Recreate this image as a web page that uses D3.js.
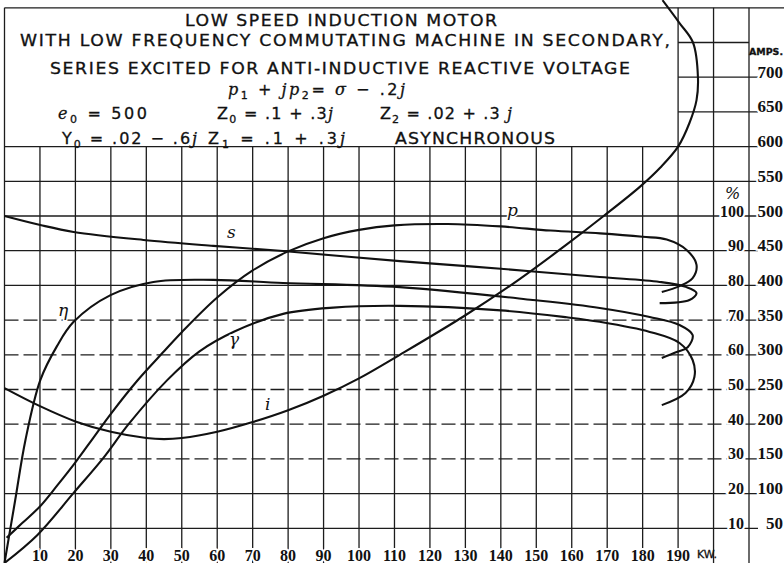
<!DOCTYPE html>
<html>
<head>
<meta charset="utf-8">
<script src="https://cdn.jsdelivr.net/npm/d3@7"></script>
<style>
  body { margin: 0; background: #fff; }
  svg { display: block; }
  .grid { stroke: #1c1c1c; stroke-width: 1.3; fill: none; }
  .curve { stroke: #111; stroke-width: 2.1; fill: none; }
  .num { font-family: "Liberation Serif", serif; font-weight: bold; fill: #111;
         paint-order: stroke; stroke: #fff; stroke-width: 4px; }
  .cap { font-family: "DejaVu Sans", sans-serif; fill: #111; stroke: #111; stroke-width: 0.3px; }
  .lbl { font-family: "DejaVu Serif", serif; font-style: italic; fill: #111;
         paint-order: stroke; stroke: #fff; stroke-width: 3px; }
</style>
</head>
<body>
<div class="chart"></div>
<script>
// ---- values: [kW, %]  (current i in amps) ----
var etaPts = [[0,0],[3,18],[5.9,35.4],[10.1,52.7],[14.8,62.5],[19.5,69.5],[29.9,77.2],[42,81],
  [58.9,81.6],[78.6,80.7],[111.5,79.5],[149,75.8],[167.9,73.5],[182,70.9],[190.4,68.6],
  [194.1,65.7],[192.7,62.2],[189.6,60.8],[185.4,59.1]];
var pfPts = [[0.6,7.3],[5,11.5],[10,16.3],[15,22.5],[20,29],[25,36],[30,43],[37.5,52.6],
  [45,61],[50,66.5],[60,76.5],[70,84.3],[80,89.8],[90,93.6],[100,96],[110,97.3],[125,97.7],
  [140,97],[154,95.8],[168,95],[180,94],[186.8,93.2],[192.4,90.2],[195.2,85.9],[194.1,82.1],
  [190.4,79.8],[185.4,78.1]];
var speedPts = [[0,100],[10.1,97.4],[19.5,95.4],[39.2,93.1],[58.9,91.4],[78.6,89.9],[111.5,87],
  [140,84.8],[167.9,82.4],[184.8,81],[192.4,79.5],[195.2,77.8],[193.2,75.8],[184.8,74.9]];
var gammaPts = [[0,0],[9.3,8.1],[19.5,20.2],[27.9,30.3],[35,40],[45.9,52.7],[55,61],
  [65,66.8],[78.6,71.8],[92.7,73.6],[111.5,74.1],[140,72.8],[158.6,70.8],[167.9,69.5],
  [182,66.6],[190.4,63.4],[194.1,58.5],[194.6,53.6],[192.1,49],[185.4,45.5]];
var ampPts = [[0,252],[10,226],[20,204],[30,189],[40,180],[45,178.5],[50,180],[60,189],
  [70,203],[80,220],[90,241],[100,266],[111.5,300],[130,357],[145,408],[158.6,459],
  [169,500],[179.2,542],[185,570],[190,600],[193.2,634],[195.2,667],[195.6,700],
  [194.2,750],[190.4,778],[185.6,811]];

var kwTicks = [10,20,30,40,50,60,70,80,90,100,110,120,130,140,150,160,170,180,190];
var pctTicks = [10,20,30,40,50,60,70,80,90,100];
var ampTicks = [50,100,150,200,250,300,350,400,450,500,550,600,650,700];
var dashedRows = [30,40,50,60,70];

var titleLines = ["LOW SPEED INDUCTION MOTOR",
  "WITH LOW FREQUENCY COMMUTATING MACHINE IN SECONDARY,",
  "SERIES EXCITED FOR ANTI-INDUCTIVE REACTIVE VOLTAGE"];

var width = 784, height = 563;

var x = d3.scaleLinear().domain([0, 210]).range([4.5, 749]);
var y = d3.scaleLinear().domain([0, 160]).range([563, 7.8]);
var ya = d3.scaleLinear().domain([0, 800]).range([563, 7.8]);

var svg = d3.select(".chart").append("svg")
    .attr("width", width)
    .attr("height", height);

// ---- grid ----
var g = svg.append("g").attr("class", "grid");
var rightEnd = 758;

d3.range(0, 211, 10).forEach(function(k) {
  var top = (k === 0 || k >= 190) ? 160 : 120;
  g.append("line")
    .attr("x1", x(k)).attr("x2", x(k))
    .attr("y1", y(top)).attr("y2", height);
});

d3.range(10, 151, 10).forEach(function(v) {
  var x1 = v <= 120 ? x(0) : x(190);
  var x2 = v === 150 ? x(210) : rightEnd;
  g.append("line")
    .attr("x1", x1).attr("x2", x2)
    .attr("y1", y(v)).attr("y2", y(v))
    .attr("stroke-dasharray", dashedRows.indexOf(v) >= 0 ? "14,5" : null);
});
g.append("line")
  .attr("x1", x(0)).attr("x2", width)
  .attr("y1", y(160)).attr("y2", y(160));

// ---- curves ----
var line = d3.line()
    .curve(d3.curveCatmullRom.alpha(0.5))
    .x(function(d) { return x(d[0]); })
    .y(function(d) { return y(d[1]); });

var lineAmp = d3.line()
    .curve(d3.curveCatmullRom.alpha(0.5))
    .x(function(d) { return x(d[0]); })
    .y(function(d) { return ya(d[1]); });

[etaPts, pfPts, speedPts, gammaPts].forEach(function(pts) {
  svg.append("path").datum(pts).attr("class", "curve").attr("d", line);
});
svg.append("path").datum(ampPts).attr("class", "curve").attr("d", lineAmp);

// ---- axis numbers ----
svg.selectAll(".kw")
  .data(kwTicks)
  .enter().append("text")
  .attr("class", "num")
  .attr("x", function(d) { return x(d); })
  .attr("y", 561)
  .attr("text-anchor", "middle")
  .style("font-size", "16px")
  .text(function(d) { return d; });

svg.append("text").attr("class", "cap")
  .attr("x", 697).attr("y", 558)
  .style("font-size", "11px")
  .text("KW.");

svg.selectAll(".pct")
  .data(pctTicks)
  .enter().append("text")
  .attr("class", "num")
  .attr("x", 744)
  .attr("y", function(d) { return y(d) + 0.5; })
  .attr("text-anchor", "end")
  .style("font-size", "16px")
  .text(function(d) { return d; });

svg.selectAll(".amp")
  .data(ampTicks)
  .enter().append("text")
  .attr("class", "num")
  .attr("x", 783)
  .attr("y", function(d) { return ya(d) + 0.5; })
  .attr("text-anchor", "end")
  .style("font-size", "17px")
  .text(function(d) { return d; });

svg.append("text").attr("class", "cap")
  .attr("x", 749).attr("y", 55)
  .attr("textLength", 34).attr("lengthAdjust", "spacingAndGlyphs")
  .style("font-size", "9px").style("font-weight", "bold")
  .text("AMPS.");

svg.append("text").attr("class", "lbl")
  .attr("x", 725).attr("y", 199)
  .style("font-size", "16px")
  .text("%");

// ---- curve names ----
var names = [["s", 227, 238], ["\u03b7", 58, 316], ["\u03b3", 229, 345], ["i", 265, 410], ["p", 507, 216]];
names.forEach(function(n) {
  svg.append("text").attr("class", "lbl")
    .attr("x", n[1]).attr("y", n[2])
    .style("font-size", "17px")
    .text(n[0]);
});

// ---- title block (wide caps: stretched horizontally) ----
var stretch = 1.15;
function wideCaps(t, x0, y0, w, size) {
  svg.append("g")
    .attr("transform", "translate(" + x0 + "," + y0 + ") scale(" + stretch + ",1)")
    .append("text").attr("class", "cap")
    .attr("textLength", w / stretch).attr("lengthAdjust", "spacing")
    .style("font-size", size + "px")
    .text(t);
}
var titlePos = [[185, 26, 312], [20, 46, 650], [50, 74, 580]];
titleLines.forEach(function(t, i) {
  wideCaps(t, titlePos[i][0], titlePos[i][1], titlePos[i][2], 15);
});

// parts: [text, kind]  kind: n = sans, i = italic serif, s = subscript
function rich(x0, y0, w, parts) {
  var t = svg.append("text").attr("class", "cap")
    .attr("x", x0).attr("y", y0)
    .attr("textLength", w).attr("lengthAdjust", "spacing")
    .style("font-size", "16px");
  var shifted = false;
  parts.forEach(function(p) {
    var s = t.append("tspan").text(p[0]);
    if (p[1] === "i") {
      s.style("font-family", "'DejaVu Serif', serif").style("font-style", "italic");
    }
    if (p[1] === "s") {
      s.style("font-size", "11px").attr("dy", 4);
      shifted = true;
    } else if (shifted) {
      s.attr("dy", -4);
      shifted = false;
    }
  });
}

rich(228, 95, 177, [["p", "i"], ["1", "s"], [" + ", "n"], ["jp", "i"], ["2", "s"],
  ["= ", "n"], ["\u03c3", "i"], [" \u2212 .2", "n"], ["j", "i"]]);
rich(58, 119, 89, [["e", "i"], ["0", "s"], [" = 500", "n"]]);
rich(217, 119, 116, [["Z", "n"], ["0", "s"], [" = .1 + .3", "n"], ["j", "i"]]);
rich(380, 119, 132, [["Z", "n"], ["2", "s"], [" = .02 + .3 ", "n"], ["j", "i"]]);
rich(62, 144, 135, [["Y", "n"], ["0", "s"], [" = .02 \u2212 .6", "n"], ["j", "i"]]);
rich(208, 144, 137, [["Z", "n"], ["1", "s"], [" = .1 + .3", "n"], ["j", "i"]]);
wideCaps("ASYNCHRONOUS", 395, 144, 160, 15);
</script>
</body>
</html>
